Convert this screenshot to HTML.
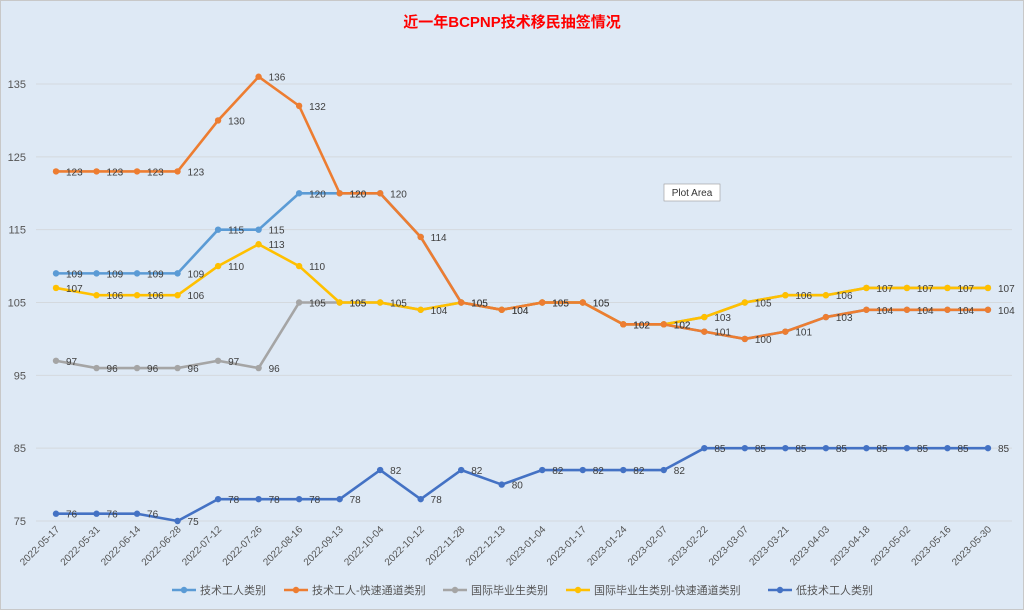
<!DOCTYPE html>
<html><head><meta charset="utf-8"><style>
body{margin:0;background:#fff;}
svg{display:block;font-family:"Liberation Sans","Noto Sans CJK SC",sans-serif;}
</style></head><body>
<svg id="s" width="1024" height="610" xmlns="http://www.w3.org/2000/svg">
<rect x="0" y="0" width="1024" height="610" fill="#dee9f5"/>
<rect x="0.5" y="0.5" width="1023" height="609" fill="none" stroke="#c8c8c8"/>
<text x="512" y="27" text-anchor="middle" font-size="15" font-weight="bold" fill="#ff0000">近一年BCPNP技术移民抽签情况</text>
<g id="g"></g>
<rect x="664" y="184" width="56" height="17" fill="#fff" stroke="#999" stroke-width="0.6"/>
<text x="692" y="196" text-anchor="middle" font-size="10" fill="#333">Plot Area</text>
</svg>
<script>
const dates=["2022-05-17","2022-05-31","2022-06-14","2022-06-28","2022-07-12","2022-07-26","2022-08-16","2022-09-13","2022-10-04","2022-10-12","2022-11-28","2022-12-13","2023-01-04","2023-01-17","2023-01-24","2023-02-07","2023-02-22","2023-03-07","2023-03-21","2023-04-03","2023-04-18","2023-05-02","2023-05-16","2023-05-30"];
const orange=[123,123,123,123,130,136,132,120,120,114,105,104,105,105,102,102,101,100,101,103,104,104,104,104];
const yellow=[107,106,106,106,110,113,110,105,105,104,105,104,105,105,102,102,103,105,106,106,107,107,107,107];
const blue=[109,109,109,109,115,115,120,120].concat(orange.slice(8));
const gray=[97,96,96,96,97,96,105,105].concat(yellow.slice(8));
const dark=[76,76,76,75,78,78,78,78,82,78,82,80,82,82,82,82,85,85,85,85,85,85,85,85];
const X=i=>56+i*40.52, Y=v=>521-(v-75)*7.283;
let h='';
for(let v=75;v<=135;v+=10){h+=`<line x1="36" x2="1012" y1="${Y(v)}" y2="${Y(v)}" stroke="#d4d9de" stroke-width="1"/><text x="26" y="${Y(v)+4}" text-anchor="end" font-size="11" fill="#555">${v}</text>`;}
dates.forEach((d,i)=>{const x=X(i);h+=`<text transform="translate(${x+4},${530}) rotate(-45)" text-anchor="end" font-size="10" fill="#555">${d}</text>`;});
function ser(data,col,n,labels){let p=data.slice(0,n).map((v,i)=>X(i)+','+Y(v)).join(' ');
h+=`<polyline points="${p}" fill="none" stroke="${col}" stroke-width="2.6" stroke-linejoin="round"/>`;
for(let i=0;i<n;i++){h+=`<circle cx="${X(i)}" cy="${Y(data[i])}" r="3.2" fill="${col}"/>`;
if(labels)h+=`<text x="${X(i)+10}" y="${Y(data[i])+4}" font-size="10" fill="#404040">${data[i]}</text>`;}}
ser(gray,"#a5a5a5",24,false);ser(blue,"#5b9bd5",24,false);
ser(yellow,"#ffc000",24,false);ser(orange,"#ed7d31",24,false);ser(dark,"#4472c4",24,false);
[[gray,8],[blue,8],[yellow,24],[orange,24],[dark,24]].forEach(([d,n])=>{for(let i=0;i<n;i++)h+=`<text x="${X(i)+10}" y="${Y(d[i])+4}" font-size="10" fill="#404040">${d[i]}</text>`;});
const leg=[["技术工人类别","#5b9bd5",172],["技术工人-快速通道类别","#ed7d31",284],["国际毕业生类别","#a5a5a5",443],["国际毕业生类别-快速通道类别","#ffc000",566],["低技术工人类别","#4472c4",768]];
leg.forEach(([t,c,x])=>{h+=`<line x1="${x}" x2="${x+24}" y1="590" y2="590" stroke="${c}" stroke-width="2.6"/><circle cx="${x+12}" cy="590" r="3.2" fill="${c}"/><text x="${x+28}" y="594" font-size="11" fill="#555">${t}</text>`;});
document.getElementById('g').innerHTML=h;
</script>
</body></html>
